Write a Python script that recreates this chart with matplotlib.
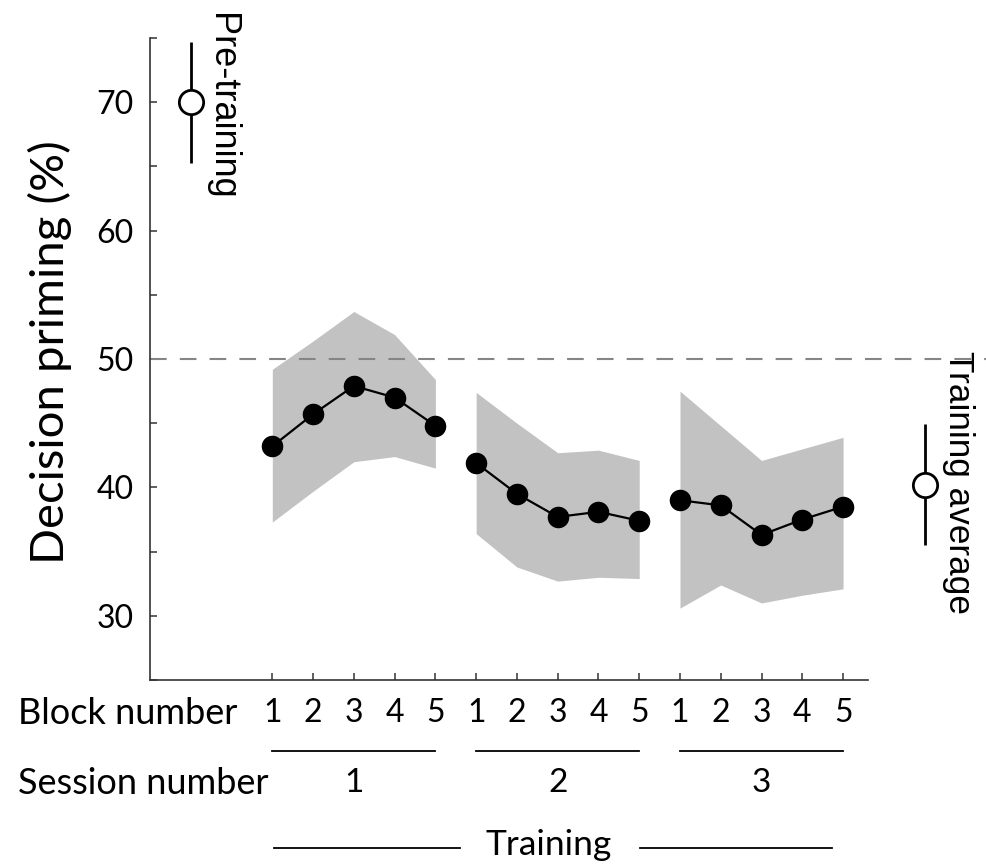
import matplotlib
matplotlib.use("Agg")
import matplotlib.pyplot as plt
import matplotlib.transforms as mtransforms
import numpy as np

# ---- data ----
blocks = [1, 2, 3, 4, 5]
sessions = ["1", "2", "3"]
mean_s1 = [43.2, 45.7, 47.9, 47.0, 44.8]
upper_s1 = [49.2, 51.4, 53.7, 51.9, 48.4]
lower_s1 = [37.3, 39.7, 42.0, 42.4, 41.5]
mean_s2 = [41.9, 39.5, 37.7, 38.1, 37.4]
upper_s2 = [47.4, 45.0, 42.7, 42.9, 42.1]
lower_s2 = [36.4, 33.8, 32.7, 33.0, 32.9]
mean_s3 = [39.0, 38.6, 36.3, 37.5, 38.5]
upper_s3 = [47.5, 44.8, 42.1, 43.0, 43.9]
lower_s3 = [30.6, 32.4, 31.0, 31.6, 32.1]
pre_mean, pre_err = 70.0, 4.7
avg_mean, avg_err = 40.2, 4.7
chance = 50
yticks = [30, 40, 50, 60, 70]

W, H = 987, 865
fig = plt.figure(figsize=(W / 100, H / 100), dpi=100)
ax = fig.add_axes([150 / W, (H - 680) / H, (W - 150) / W, (680 - 38) / H])
ax.set_xlim(-1, 19.53)
ax.set_ylim(25, 75)

main_font = "Lato"
side_font = "Liberation Sans"
fill_c = "#c2c2c2"

means = [mean_s1, mean_s2, mean_s3]
uppers = [upper_s1, upper_s2, upper_s3]
lowers = [lower_s1, lower_s2, lower_s3]
xticks = []
for i in range(3):
    x = np.arange(5) + 2 + 5 * i
    xticks.extend(x)
    ax.fill_between(x, lowers[i], uppers[i], color=fill_c, lw=0, zorder=1)
    ax.plot(x, means[i], color="black", lw=1.6, marker="o", ms=14.5,
            mfc="black", mec="black", zorder=3)

ax.axhline(chance, color="#858585", lw=1.5, ls=(0, (8, 6.3)), zorder=2)

for xv, m, e in [(0, pre_mean, pre_err), (18, avg_mean, avg_err)]:
    ax.errorbar([xv], [m], yerr=[e], fmt="o", ms=17.5, mfc="white", mec="black",
                mew=2, ecolor="black", elinewidth=2, capsize=0, zorder=4,
                clip_on=False)

for s in ["top", "right"]:
    ax.spines[s].set_visible(False)
ax.spines["bottom"].set_bounds(-1, 16.6)
for s in ["left", "bottom"]:
    ax.spines[s].set_linewidth(1.2)
    ax.spines[s].set_color("#333333")

ax.set_yticks(yticks)
ax.set_yticks(np.arange(25, 76, 5), minor=True)
ax.set_yticklabels([str(v) for v in yticks], fontsize=23, family=main_font)
ax.tick_params(axis="y", which="both", direction="in", length=5, width=1.1,
               color="#333333", pad=12)
ax.set_xticks(xticks)
ax.set_xticklabels([str(b) for b in blocks] * 3, fontsize=23, family=main_font)
ax.tick_params(axis="x", direction="in", length=5, width=1.1,
               color="#333333", pad=13)

fig.text(50 / W, 1 - 352 / H, "Decision priming (%)", fontsize=34,
         family=main_font, rotation=90, ha="center", va="center")

tr = mtransforms.blended_transform_factory(ax.transData, fig.transFigure)
def fy(px):
    return 1 - px / H

fig.text(18 / W, fy(714), "Block number", fontsize=26, family=main_font,
         ha="left", va="center")
fig.text(18 / W, fy(783), "Session number", fontsize=26, family=main_font,
         ha="left", va="center")

for i, s in enumerate(sessions):
    x0 = 2 + 5 * i
    ax.plot([x0, x0 + 4], [fy(751)] * 2, transform=tr, color="black",
            lw=1.3, clip_on=False)
    ax.text(x0 + 2, fy(783), s, transform=tr, fontsize=24, family=main_font,
            ha="center", va="center")

ax.text(8.77, fy(845), "Training", transform=tr, fontsize=25.5,
        family=main_font, ha="center", va="center")
ax.plot([2.03, 6.6], [fy(848)] * 2, transform=tr, color="black", lw=1.3,
        clip_on=False)
ax.plot([11.01, 15.74], [fy(848)] * 2, transform=tr, color="black", lw=1.3,
        clip_on=False)

ax.text(0.76, 76.95, "Pre-training", rotation=270, fontsize=26,
        family=side_font, ha="center", va="top", clip_on=False)
ax.text(18.83, 50.6, "Training average", rotation=270, fontsize=25.3,
        family=side_font, ha="center", va="top", clip_on=False)

fig.savefig("out.png", dpi=100)
